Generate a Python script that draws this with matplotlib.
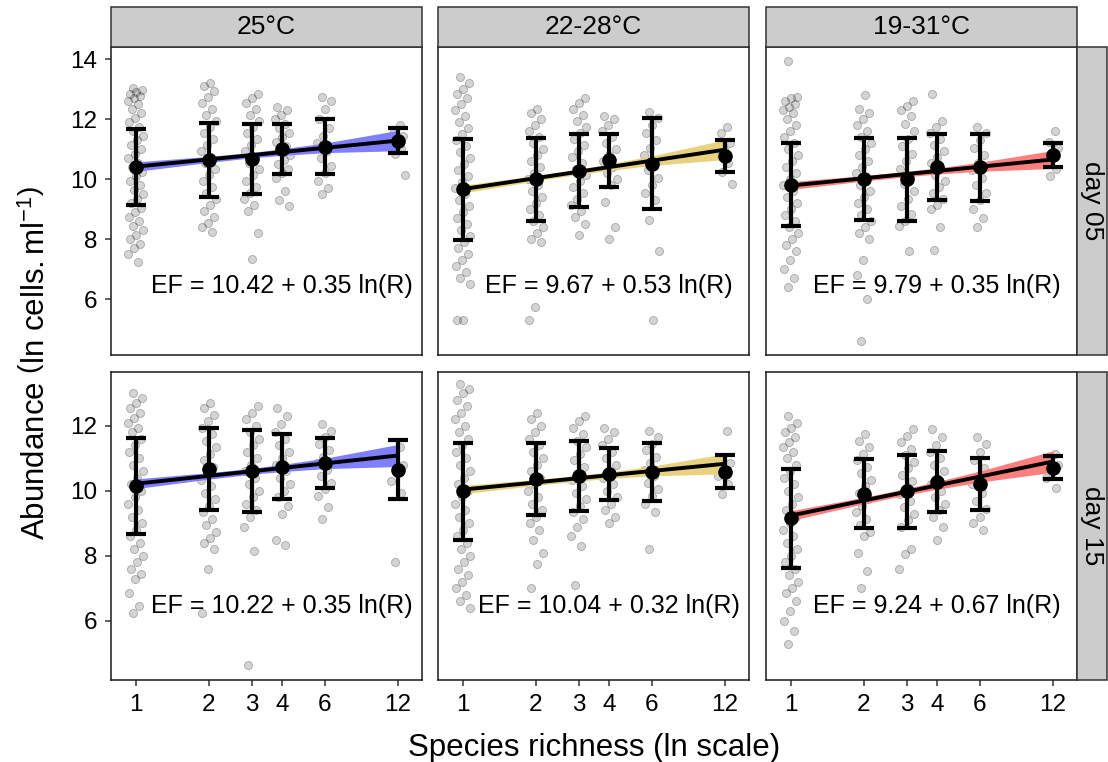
import numpy as np
import matplotlib.pyplot as plt
from matplotlib.patches import Rectangle

plt.rcParams['font.family'] = ['Liberation Sans', 'DejaVu Sans']
plt.rcParams['mathtext.fontset'] = 'custom'
plt.rcParams['mathtext.rm'] = 'Liberation Sans'
plt.rcParams['mathtext.it'] = 'Liberation Sans:italic'

richness = [1, 2, 3, 4, 6, 12]
temps = ['25°C', '22-28°C', '19-31°C']
days = ['day 05', 'day 15']
ribbon_cols = ['#7f7fff', '#e9d27f', '#ff7f7f']

# regression coefficients shown in each panel (intercept, slope), row by row
intercepts = [[10.42, 9.67, 9.79], [10.22, 10.04, 9.24]]
slopes = [[0.35, 0.53, 0.35], [0.35, 0.32, 0.67]]

# ribbon half widths at each richness level
ci_25_d05 = [0.16, 0.10, 0.09, 0.11, 0.16, 0.34]
ci_2228_d05 = [0.13, 0.09, 0.09, 0.11, 0.16, 0.33]
ci_1931_d05 = [0.13, 0.09, 0.09, 0.10, 0.15, 0.30]
ci_25_d15 = [0.15, 0.10, 0.09, 0.11, 0.16, 0.34]
ci_2228_d15 = [0.13, 0.09, 0.09, 0.10, 0.15, 0.31]
ci_1931_d15 = [0.15, 0.10, 0.10, 0.12, 0.17, 0.33]

# group means and sd
mean_25_d05 = [10.42, 10.64, 10.68, 11.01, 11.09, 11.28]
sd_25_d05 = [1.27, 1.23, 1.17, 0.83, 0.92, 0.42]
mean_2228_d05 = [9.66, 10.00, 10.29, 10.63, 10.52, 10.78]
sd_2228_d05 = [1.68, 1.39, 1.21, 0.88, 1.51, 0.53]
mean_1931_d05 = [9.82, 10.01, 10.00, 10.41, 10.40, 10.81]
sd_1931_d05 = [1.38, 1.375, 1.385, 1.10, 1.11, 0.415]
mean_25_d15 = [10.15, 10.68, 10.61, 10.74, 10.86, 10.65]
sd_25_d15 = [1.49, 1.27, 1.255, 1.00, 0.775, 0.91]
mean_2228_d15 = [9.99, 10.38, 10.46, 10.52, 10.57, 10.595]
sd_2228_d15 = [1.495, 1.11, 1.08, 0.81, 0.89, 0.505]
mean_1931_d15 = [9.155, 9.92, 9.99, 10.285, 10.215, 10.72]
sd_1931_d15 = [1.515, 1.06, 1.13, 0.935, 0.805, 0.36]

# raw observations (ln cells/ml) per richness level
pts_25_d05 = {
    1: [13.05, 12.98, 12.9, 12.85, 12.78, 12.7, 12.62, 12.5, 12.35, 12.2, 12.05, 11.9, 11.75, 11.6,
        11.45, 11.3, 11.15, 11.0, 10.85, 10.7, 10.55, 10.4, 10.25, 10.1, 9.95, 9.8, 9.65, 9.5, 9.35,
        9.2, 9.05, 8.9, 8.75, 8.6, 8.45, 8.3, 8.15, 8.0, 7.85, 7.7, 7.5, 7.25],
    2: [13.2, 13.1, 12.95, 12.75, 12.55, 12.35, 12.15, 11.95, 11.75, 11.55, 11.35, 11.15, 10.95,
        10.75, 10.55, 10.35, 10.15, 9.95, 9.75, 9.55, 9.35, 9.15, 8.95, 8.75, 8.55, 8.4, 8.25],
    3: [12.85, 12.7, 12.55, 12.35, 12.15, 11.95, 11.75, 11.55, 11.35, 11.15, 10.95, 10.75, 10.55,
        10.35, 10.15, 9.95, 9.75, 9.55, 9.35, 9.15, 8.95, 8.2, 7.35],
    4: [12.4, 12.3, 12.15, 12.0, 11.85, 11.7, 11.55, 11.4, 11.25, 11.1, 10.95, 10.8, 10.65, 10.5,
        10.35, 10.2, 10.05, 9.6, 9.3, 9.1],
    6: [12.75, 12.6, 12.35, 12.0, 11.7, 11.45, 11.2, 10.95, 10.7, 10.45, 10.2, 9.95, 9.7, 9.5],
    12: [11.8, 11.6, 11.45, 11.3, 11.15, 11.0, 10.85, 10.15],
}
pts_2228_d05 = {
    1: [13.4, 13.2, 13.0, 12.85, 12.7, 12.5, 12.3, 12.1, 11.9, 11.7, 11.5, 11.3, 11.1, 10.9, 10.7,
        10.5, 10.3, 10.1, 9.9, 9.7, 9.5, 9.3, 9.1, 8.9, 8.7, 8.5, 8.3, 8.1, 7.9, 7.7, 7.5, 7.3, 7.1,
        6.9, 6.7, 6.5, 5.3, 5.3],
    2: [12.35, 12.2, 12.0, 11.8, 11.6, 11.4, 11.2, 11.0, 10.8, 10.6, 10.4, 10.2, 10.0, 9.8, 9.6,
        9.4, 9.2, 9.0, 8.8, 8.6, 8.4, 8.2, 8.0, 7.9, 5.75, 5.3],
    3: [12.7, 12.55, 12.35, 12.15, 11.95, 11.75, 11.55, 11.35, 11.15, 10.95, 10.75, 10.55, 10.35,
        10.15, 9.95, 9.75, 9.55, 9.35, 9.15, 8.95, 8.75, 8.5, 8.15],
    4: [12.1, 12.0, 11.8, 11.6, 11.4, 11.2, 11.0, 10.8, 10.6, 10.4, 10.2, 10.0, 9.8, 9.25, 8.4, 8.0],
    6: [12.25, 12.05, 11.8, 11.55, 11.3, 11.05, 10.8, 10.55, 10.3, 10.05, 9.8, 9.55, 9.3, 8.65,
        7.6, 5.3],
    12: [11.75, 11.55, 11.2, 11.0, 10.8, 10.55, 10.25, 9.85],
}
pts_1931_d05 = {
    1: [13.95, 12.75, 12.7, 12.6, 12.5, 12.4, 12.3, 12.2, 12.0, 11.8, 11.6, 11.4, 11.2, 11.0, 10.8,
        10.6, 10.4, 10.2, 10.0, 9.8, 9.6, 9.4, 9.2, 9.0, 8.8, 8.6, 8.4, 8.2, 8.0, 7.8, 7.6, 7.3, 7.0,
        6.7, 6.4],
    2: [12.8, 12.35, 12.2, 12.0, 11.8, 11.6, 11.4, 11.2, 11.0, 10.8, 10.6, 10.4, 10.2, 10.0, 9.8,
        9.6, 9.4, 9.2, 9.0, 8.8, 8.6, 8.4, 8.2, 8.0, 7.3, 6.8, 6.0, 4.6],
    3: [12.6, 12.45, 12.3, 12.1, 11.85, 11.6, 11.35, 11.1, 10.85, 10.6, 10.35, 10.1, 9.85, 9.6,
        9.35, 9.1, 8.85, 8.6, 8.45, 7.6],
    4: [12.85, 11.95, 11.75, 11.55, 11.35, 11.15, 10.95, 10.75, 10.55, 10.35, 10.15, 9.95, 9.75,
        9.55, 9.35, 9.15, 9.0, 8.4, 7.65],
    6: [11.75, 11.55, 11.3, 11.05, 10.8, 10.55, 10.3, 10.05, 9.8, 9.55, 9.3, 9.0, 8.7, 8.4],
    12: [11.6, 11.25, 11.05, 10.85, 10.6, 10.35, 10.1],
}
pts_25_d15 = {
    1: [13.0, 12.85, 12.7, 12.55, 12.4, 12.25, 12.1, 11.95, 11.8, 11.6, 11.4, 11.2, 11.0, 10.8,
        10.6, 10.4, 10.2, 10.0, 9.8, 9.6, 9.4, 9.2, 9.0, 8.8, 8.6, 8.4, 8.2, 8.0, 7.8, 7.6, 7.45,
        7.3, 6.85, 6.45, 6.25],
    2: [12.7, 12.55, 12.35, 12.15, 11.95, 11.75, 11.55, 11.35, 11.15, 10.95, 10.75, 10.55, 10.35,
        10.15, 9.95, 9.75, 9.55, 9.35, 9.15, 8.95, 8.75, 8.55, 8.4, 8.2, 7.6, 6.25],
    3: [12.6, 12.4, 12.2, 12.0, 11.8, 11.6, 11.4, 11.2, 11.0, 10.8, 10.6, 10.4, 10.2, 10.0, 9.8,
        9.6, 9.4, 9.2, 8.9, 8.15, 4.65],
    4: [12.55, 12.3, 12.05, 11.8, 11.6, 11.4, 11.2, 11.0, 10.8, 10.6, 10.4, 10.2, 10.0, 9.8, 9.55,
        9.3, 8.5, 8.35],
    6: [12.05, 11.85, 11.65, 11.45, 11.25, 11.05, 10.85, 10.65, 10.45, 10.25, 10.05, 9.85, 9.5, 9.15],
    12: [11.35, 11.05, 10.8, 10.55, 10.3, 9.95, 7.8],
}
pts_2228_d15 = {
    1: [13.3, 13.15, 13.0, 12.8, 12.6, 12.4, 12.2, 12.0, 11.8, 11.6, 11.4, 11.2, 11.0, 10.8, 10.6,
        10.4, 10.2, 10.0, 9.8, 9.6, 9.4, 9.2, 9.0, 8.8, 8.6, 8.4, 8.2, 8.0, 7.8, 7.6, 7.4, 7.2, 7.0,
        6.8, 6.6, 6.4],
    2: [12.4, 12.2, 12.0, 11.8, 11.6, 11.4, 11.2, 11.0, 10.8, 10.6, 10.4, 10.2, 10.0, 9.8, 9.6, 9.4,
        9.2, 9.0, 8.8, 8.5, 8.1, 7.75, 7.0],
    3: [12.3, 12.15, 11.95, 11.75, 11.55, 11.35, 11.15, 10.95, 10.75, 10.55, 10.35, 10.15, 9.95,
        9.75, 9.55, 9.35, 9.15, 8.9, 8.6, 8.3, 7.1],
    4: [11.95, 11.8, 11.6, 11.4, 11.2, 11.0, 10.8, 10.6, 10.4, 10.2, 10.0, 9.8, 9.6, 9.4, 9.2, 9.0],
    6: [11.85, 11.65, 11.45, 11.25, 11.05, 10.85, 10.65, 10.45, 10.25, 10.05, 9.85, 9.6, 9.35, 8.2],
    12: [11.85, 11.05, 10.85, 10.65, 10.45, 10.2, 9.9],
}
pts_1931_d15 = {
    1: [12.3, 12.1, 11.95, 11.8, 11.65, 11.5, 11.35, 11.2, 11.0, 10.8, 10.6, 10.4, 10.2, 10.0, 9.8,
        9.6, 9.4, 9.2, 9.0, 8.8, 8.6, 8.4, 8.2, 8.0, 7.8, 7.6, 7.4, 7.2, 7.0, 6.85, 6.6, 6.3, 6.0,
        5.7, 5.3],
    2: [11.75, 11.55, 11.35, 11.15, 10.95, 10.75, 10.55, 10.35, 10.15, 9.95, 9.75, 9.55, 9.35,
        9.15, 8.95, 8.75, 8.6, 8.1, 7.55, 7.0],
    3: [11.9, 11.7, 11.5, 11.3, 11.1, 10.9, 10.7, 10.5, 10.3, 10.1, 9.9, 9.7, 9.5, 9.3, 9.1, 8.9,
        8.2, 8.05, 7.6],
    4: [11.9, 11.65, 11.4, 11.2, 11.0, 10.8, 10.6, 10.4, 10.2, 10.0, 9.8, 9.6, 9.4, 9.2, 8.9, 8.5],
    6: [11.65, 11.45, 11.2, 10.95, 10.7, 10.45, 10.2, 9.95, 9.7, 9.45, 9.2, 9.0, 8.8],
    12: [11.15, 10.95, 10.8, 10.6, 10.4, 10.1],
}

points = [[pts_25_d05, pts_2228_d05, pts_1931_d05], [pts_25_d15, pts_2228_d15, pts_1931_d15]]
means = [[mean_25_d05, mean_2228_d05, mean_1931_d05], [mean_25_d15, mean_2228_d15, mean_1931_d15]]
sds = [[sd_25_d05, sd_2228_d05, sd_1931_d05], [sd_25_d15, sd_2228_d15, sd_1931_d15]]
cis = [[ci_25_d05, ci_2228_d05, ci_1931_d05], [ci_25_d15, ci_2228_d15, ci_1931_d15]]
ylims = [(4.14, 14.41), (4.18, 13.66)]

W, H = 1108, 762
fig = plt.figure(figsize=(W / 100, H / 100), dpi=100)

col_left = [111, 438, 766]
row_top = [47, 372]
pw, ph = 311, 308

def fx(px):
    return px / W

def fy(py):
    return 1 - py / H

R = np.array(richness, dtype=float)
for r in range(2):
    for c in range(3):
        ax = fig.add_axes([fx(col_left[c]), fy(row_top[r] + ph), pw / W, ph / H])
        ax.set_xscale('log')
        # jittered raw points
        for lvl, vals in points[r][c].items():
            idx = np.arange(len(vals))
            off = ((idx * 0.618034 + 0.3 * (lvl % 5)) % 1 - 0.5) * 0.15
            ax.scatter(lvl * np.exp(off), vals, s=34, facecolors=(0, 0, 0, 0.17),
                       edgecolors=(0, 0, 0, 0.28), linewidths=0.6, zorder=1)
        fit = intercepts[r][c] + slopes[r][c] * np.log(R)
        ci = np.array(cis[r][c])
        ax.fill_between(R, fit - ci, fit + ci, color=ribbon_cols[c], lw=0, zorder=2)
        ax.plot(R, fit, color='black', lw=2.8, zorder=3, solid_capstyle='butt')
        ax.errorbar(R, means[r][c], yerr=sds[r][c], fmt='o', color='black', ms=9.5,
                    elinewidth=3, capsize=7.5, capthick=3, zorder=4)
        ax.text(4, 6.45, f'EF = {intercepts[r][c]:.2f} + {slopes[r][c]:.2f} ln(R)',
                ha='center', va='center', fontsize=18, zorder=5)
        ax.set_xlim(np.exp(-0.234), np.exp(2.712))
        ax.set_ylim(*ylims[r])
        ax.minorticks_off()
        for s in ax.spines.values():
            s.set_color('#1a1a1a')
            s.set_linewidth(1.1)
        ax.tick_params(length=4, width=1.1, color='#333333', labelsize=17.5, pad=6)
        ax.set_xticks(richness)
        ax.set_xticklabels([str(v) for v in richness])
        ax.set_yticks([6, 8, 10, 12, 14] if r == 0 else [6, 8, 10, 12])
        if c > 0:
            ax.tick_params(axis='y', left=False, labelleft=False)
        if r == 0:
            ax.tick_params(axis='x', bottom=False, labelbottom=False)

# top strips
for c in range(3):
    fig.patches.append(Rectangle((fx(col_left[c]), fy(row_top[0])), pw / W, 40 / H,
                                 transform=fig.transFigure, facecolor='#cccccc',
                                 edgecolor='#333333', lw=1.1))
    fig.text(fx(col_left[c] + pw / 2), fy(row_top[0] - 20), temps[c], ha='center',
             va='center', fontsize=19)
# right strips
for r in range(2):
    fig.patches.append(Rectangle((fx(1077), fy(row_top[r] + ph)), 30 / W, ph / H,
                                 transform=fig.transFigure, facecolor='#cccccc',
                                 edgecolor='#333333', lw=1.1))
    fig.text(fx(1092), fy(row_top[r] + ph / 2), days[r], ha='center', va='center',
             rotation=-90, fontsize=19)

fig.text(fx(594), fy(756), 'Species richness (ln scale)', ha='center', va='baseline',
         fontsize=22.5)
fig.text(fx(36), fy(363), r'Abundance $\left(\mathrm{ln\ cells.ml}^{-1}\right)$',
         ha='center', va='center', rotation=90, fontsize=22.5)

fig.savefig('out.png', dpi=100)
